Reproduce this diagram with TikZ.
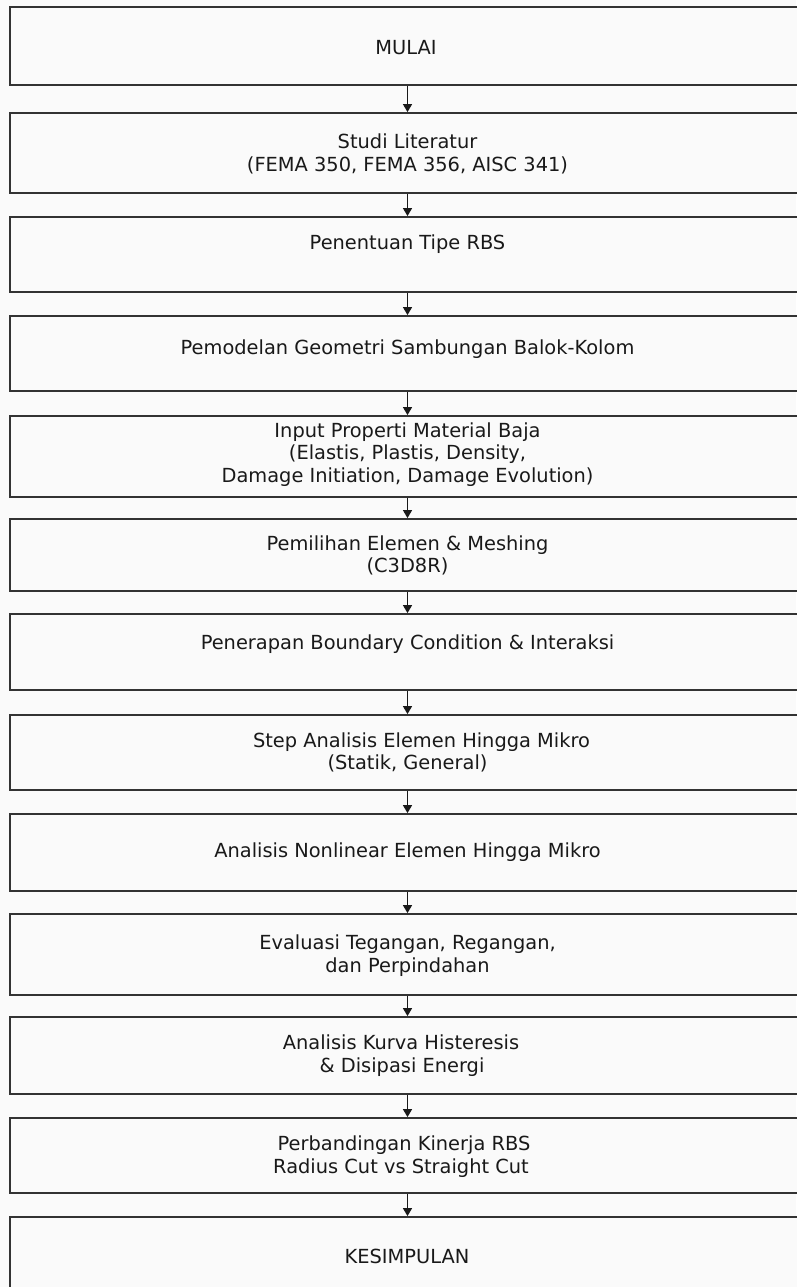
\documentclass[tikz,border=0pt]{standalone}
\usepackage{fontspec}
\setmainfont{DejaVu Sans}
\usetikzlibrary{arrows.meta}
\begin{document}
\begin{tikzpicture}[x=1pt,y=-1pt,
  box/.style={draw=black!80, line width=1.8pt, fill=white!98!black, minimum width=795pt, inner sep=0pt},
  txt/.style={font=\fontsize{19.4}{22.7}\selectfont, align=center, text=black!90, inner sep=0pt},
  flow/.style={draw=black!90, line width=1.3pt, -{Triangle[length=8pt,width=9pt]}}]
\useasboundingbox[fill=white!98!black] (0,0) rectangle (796,1287);
% boxes
\node[box, minimum height=78pt] (b1) at (407.5,46) {};
\node[box, minimum height=80pt] (b2) at (407.5,153) {};
\node[box, minimum height=75pt] (b3) at (407.5,254.5) {};
\node[box, minimum height=75pt] (b4) at (407.5,353.5) {};
\node[box, minimum height=81pt] (b5) at (407.5,456.5) {};
\node[box, minimum height=72pt] (b6) at (407.5,555) {};
\node[box, minimum height=76pt] (b7) at (407.5,652) {};
\node[box, minimum height=75pt] (b8) at (407.5,752.5) {};
\node[box, minimum height=77pt] (b9) at (407.5,852.5) {};
\node[box, minimum height=81pt] (b10) at (407.5,954.5) {};
\node[box, minimum height=77pt] (b11) at (407.5,1055.5) {};
\node[box, minimum height=75pt] (b12) at (407.5,1155.5) {};
\node[box, minimum height=83pt] (b13) at (407.5,1258.5) {};
% texts
\node[txt] (t1) at (406,48) {MULAI};
\node[txt] (t2) at (407.5,154) {Studi Literatur\\(FEMA 350, FEMA 356, AISC 341)};
\node[txt] (t3) at (407.5,244.5) {Penentuan Tipe RBS};
\node[txt] (t4) at (407.5,349.5) {Pemodelan Geometri Sambungan Balok-Kolom};
\node[txt] (t5) at (407.5,454.5) {Input Properti Material Baja\\(Elastis, Plastis, Density,\\Damage Initiation, Damage Evolution)};
\node[txt] (t6) at (407.5,555.5) {Pemilihan Elemen \& Meshing\\(C3D8R)};
\node[txt] (t7) at (407.5,644.5) {Penerapan Boundary Condition \& Interaksi};
\node[txt] (t8) at (407.5,752.5) {\hspace*{28pt}Step Analisis Elemen Hingga Mikro\\(Statik, General)};
\node[txt] (t9) at (407.5,852.5) {Analisis Nonlinear Elemen Hingga Mikro};
\node[txt] (t10) at (407.5,955.5) {Evaluasi Tegangan, Regangan,\\dan Perpindahan};
\node[txt] (t11) at (401,1055.5) {Analisis Kurva Histeresis\\\hspace*{2pt}\& Disipasi Energi};
\node[txt] (t12) at (401,1156.5) {\hspace*{6pt}Perbandingan Kinerja RBS\\Radius Cut vs Straight Cut};
\node[txt] (t13) at (407,1256) {KESIMPULAN};
% connectors
\foreach \a/\b in {b1/b2,b2/b3,b3/b4,b4/b5,b5/b6,b6/b7,b7/b8,b8/b9,b9/b10,b10/b11,b11/b12,b12/b13}
  \draw[flow] (\a.south) -- (\b.north);
\end{tikzpicture}
\end{document}
